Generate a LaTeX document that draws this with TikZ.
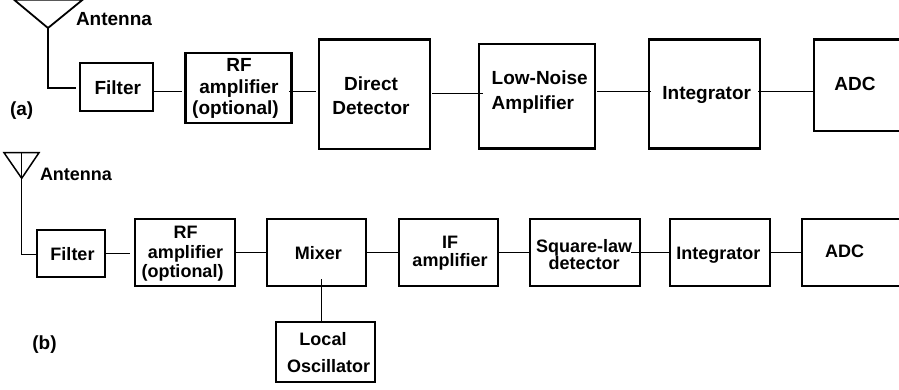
\documentclass[tikz,border=0pt]{standalone}
\usepackage{fontspec}
\setmainfont{Liberation Sans}
\tikzset{
  box/.style={draw=black,line width=2.3pt,inner sep=0pt,fill=none},
  wire/.style={draw=black,line width=1.3pt},
  ant/.style={draw=black,line width=1.8pt,line join=miter},
  lbl/.style 2 args={font=\fontsize{#1}{#2}\selectfont\bfseries,align=center,inner sep=0pt,text=black},
}
\newcommand{\bx}[5]{\node[box,minimum width={(#4-#2)*1pt},minimum height={(#5-#3)*1pt}] (#1) at ({(#2+#4)/2},{(#3+#5)/2}) {};}
\newcommand{\wire}[5]{\draw[wire] ([xshift=#4pt]#1.east |- 0,#3) -- ([xshift=#5pt]#2.west |- 0,#3);}
\begin{document}
\begin{tikzpicture}[x=1pt,y=-1pt]
\useasboundingbox (0,0) rectangle (899,389);
\clip (0,0) rectangle (899,389);
% (a)
\bx{fa}{80}{62.7}{152.7}{110.7}
\bx{ra}{185.5}{53}{291.5}{123}
\bx{da}{319}{39.5}{430}{149}
\bx{la}{479}{44}{595}{148.5}
\bx{ia}{649.3}{39.5}{759.7}{148.5}
\bx{aa}{813.7}{39.5}{915}{131}
\node[lbl={19}{22}] (tfa) at (117.8,88) {Filter};
\node[lbl={19}{21.5}] (tra) at (239,88.8) {RF\\amplifier\\(optional)\hspace*{7pt}};
\node[lbl={19}{24}] (tda) at (371,95.5) {Direct\\Detector};
\node[lbl={19}{25}] (tla) at (539.7,92) {\begin{tabular}{@{}l@{}}Low-Noise\\Amplifier\end{tabular}};
\node[lbl={19}{22}] (tia) at (706.7,95) {Integrator};
\node[lbl={19}{22}] (taa) at (855,84) {ADC};
\node[lbl={19}{22}] (ana) at (114,19) {Antenna};
\node[lbl={19}{22}] (capa) at (21.7,110.7) {(a)};
\coordinate (tipa) at (48,28);
\coordinate (tla1) at (14,-0.3);
\coordinate (tra1) at (82.7,-0.3);
\draw[ant] (tla1) -- (tipa) -- (tra1) -- cycle;
\draw[wire] (tipa) |- ([xshift=-3pt,yshift=-1.3pt]fa.west);
\wire{fa}{ra}{91.5}{0}{-2.5}
\wire{ra}{da}{91.5}{-3.5}{-2}
\wire{da}{la}{93.5}{1}{5}
\wire{la}{ia}{91.5}{0.7}{2.7}
\wire{ia}{aa}{91.5}{-2.7}{2}
% (b)
\bx{fb}{36.7}{230.3}{105.3}{276.7}
\bx{rb}{135}{219}{235}{285.7}
\bx{mb}{266.7}{219}{366.3}{285.7}
\bx{ib}{399}{219}{498.3}{285.7}
\bx{sb}{530.3}{219}{640}{285.7}
\bx{nb}{670}{219}{769.7}{285.7}
\bx{ab}{802}{219}{915}{285.7}
\bx{ob}{275.7}{322.3}{375.3}{381.7}
\node[lbl={18}{22}] (tfb) at (72.5,254.3) {Filter};
\node[lbl={18}{19.5}] (trb) at (185.5,254) {RF\\amplifier\\(optional)\hspace*{6pt}};
\node[lbl={18}{22}] (tmb) at (318.3,253.3) {Mixer};
\node[lbl={18}{18}] (tib) at (450,253) {IF\\amplifier};
\node[lbl={18}{17}] (tsb) at (584.2,254.5) {Square-law\\detector};
\node[lbl={18}{22}] (tnb) at (718.3,255) {Integrator};
\node[lbl={18}{22}] (tab) at (844.7,251.7) {ADC};
\node[lbl={18}{27}] (tob) at (328.7,352.5) {Local\hspace*{11.4pt}\\Oscillator};
\node[lbl={18}{22}] (anb) at (76,174) {Antenna};
\node[lbl={19}{22}] (capb) at (44.5,345) {(b)};
\coordinate (tipb) at (21.7,178.3);
\coordinate (tlb) at (4,152.7);
\coordinate (trb1) at (39,152.7);
\coordinate (topb) at (21.7,152.7);
\draw[ant,line width=1.5pt] (tlb) -- (tipb) -- (trb1) -- cycle;
\draw[wire] (topb) |- ([yshift=-1.2pt]fb.west);
\wire{fb}{rb}{253.3}{-2}{-4}
\wire{rb}{mb}{252.3}{0}{0}
\wire{mb}{ib}{252.3}{0}{0}
\wire{ib}{sb}{252.3}{0}{0}
\wire{sb}{nb}{252.3}{-10}{0}
\wire{nb}{ab}{252.3}{0}{0}
\draw[wire] ([yshift=7.4pt]mb.south -| 321.7,0) -- (ob.north -| 321.7,0);
\end{tikzpicture}
\end{document}
